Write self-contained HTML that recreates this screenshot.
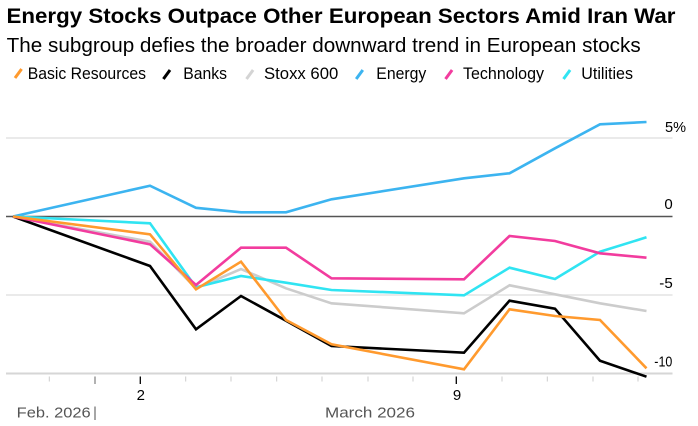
<!DOCTYPE html>
<html>
<head>
<meta charset="utf-8">
<style>
  html, body { margin: 0; padding: 0; background: #ffffff; }
  svg { display: block; }
  text { font-family: "Liberation Sans", Arial, sans-serif; }
</style>
</head>
<body>
<svg width="698" height="426" viewBox="0 0 698 426" xmlns="http://www.w3.org/2000/svg">
  <rect x="0" y="0" width="698" height="426" fill="#ffffff"/>

  <!-- Title & subtitle -->
  <text x="6.5" y="23" font-size="21.5" font-weight="bold" fill="#000" textLength="669" lengthAdjust="spacingAndGlyphs">Energy Stocks Outpace Other European Sectors Amid Iran War</text>
  <text x="6.7" y="52" font-size="20.5" fill="#000" textLength="634" lengthAdjust="spacingAndGlyphs">The subgroup defies the broader downward trend in European stocks</text>

  <!-- Legend -->
  <g stroke-width="3" fill="none">
    <line x1="15" y1="78" x2="21.6" y2="69" stroke="#ff9a2e"/>
    <line x1="163.4" y1="79" x2="170" y2="70" stroke="#000000"/>
    <line x1="246.5" y1="79" x2="253.1" y2="70" stroke="#d4d4d4"/>
    <line x1="356.2" y1="79" x2="362.8" y2="70" stroke="#3cb4f0"/>
    <line x1="445.5" y1="79" x2="452.1" y2="70" stroke="#f23c9e"/>
    <line x1="563.5" y1="79" x2="570.1" y2="70" stroke="#30e4f2"/>
  </g>
  <g font-size="16.5" fill="#000">
    <text x="27.7" y="79" textLength="118.3" lengthAdjust="spacingAndGlyphs">Basic Resources</text>
    <text x="183.3" y="79" textLength="43.7" lengthAdjust="spacingAndGlyphs">Banks</text>
    <text x="264" y="79" textLength="74.3" lengthAdjust="spacingAndGlyphs">Stoxx 600</text>
    <text x="376.3" y="79" textLength="50" lengthAdjust="spacingAndGlyphs">Energy</text>
    <text x="463" y="79" textLength="81" lengthAdjust="spacingAndGlyphs">Technology</text>
    <text x="581.3" y="79" textLength="51.7" lengthAdjust="spacingAndGlyphs">Utilities</text>
  </g>

  <!-- Grid -->
  <line x1="6" y1="138" x2="672.5" y2="138" stroke="#dddddd" stroke-width="1.3"/>
  <line x1="6" y1="295" x2="672.5" y2="295" stroke="#dddddd" stroke-width="1.3"/>
  <line x1="6" y1="373.5" x2="672.5" y2="373.5" stroke="#d6d6d6" stroke-width="2"/>
  <line x1="6" y1="216.5" x2="672.5" y2="216.5" stroke="#555555" stroke-width="1.6"/>

  <!-- Y labels -->
  <g font-size="15" fill="#000">
    <text x="665" y="132" textLength="21" lengthAdjust="spacingAndGlyphs">5%</text>
    <text x="672.7" y="209" text-anchor="end">0</text>
    <text x="672.7" y="288" text-anchor="end" textLength="13.4" lengthAdjust="spacingAndGlyphs">-5</text>
    <text x="672.3" y="366.7" text-anchor="end" textLength="18" lengthAdjust="spacingAndGlyphs">-10</text>
  </g>

  <!-- X ticks -->
  <g stroke="#cccccc" stroke-width="1">
    <line x1="49.3" y1="376.5" x2="49.3" y2="381.5"/>
    <line x1="185.7" y1="376.5" x2="185.7" y2="381.5"/>
    <line x1="231" y1="376.5" x2="231" y2="381.5"/>
    <line x1="276.7" y1="376.5" x2="276.7" y2="381.5"/>
    <line x1="322" y1="376.5" x2="322" y2="381.5"/>
    <line x1="368" y1="376.5" x2="368" y2="381.5"/>
    <line x1="413" y1="376.5" x2="413" y2="381.5"/>
    <line x1="502" y1="376.5" x2="502" y2="381.5"/>
    <line x1="547.3" y1="376.5" x2="547.3" y2="381.5"/>
    <line x1="593" y1="376.5" x2="593" y2="381.5"/>
    <line x1="638" y1="376.5" x2="638" y2="381.5"/>
  </g>
  <line x1="95" y1="376.5" x2="95" y2="384" stroke="#888888" stroke-width="1.3"/>
  <line x1="140.3" y1="376.5" x2="140.3" y2="384" stroke="#000" stroke-width="1.3"/>
  <line x1="456.3" y1="376.5" x2="456.3" y2="384" stroke="#000" stroke-width="1.3"/>

  <!-- X labels -->
  <g font-size="15" fill="#000">
    <text x="140.8" y="400" text-anchor="middle">2</text>
    <text x="457" y="400" text-anchor="middle">9</text>
  </g>
  <g font-size="15" fill="#555555">
    <text x="16.7" y="417.3" textLength="74" lengthAdjust="spacingAndGlyphs">Feb. 2026</text>
    <text x="325" y="417.3" textLength="90" lengthAdjust="spacingAndGlyphs">March 2026</text>
  </g>
  <line x1="95" y1="406.5" x2="95" y2="420" stroke="#777777" stroke-width="1.3"/>

  <!-- Series -->
  <g fill="none" stroke-width="2.6" stroke-linejoin="miter" stroke-miterlimit="10">
    <!-- Stoxx 600 -->
    <polyline stroke="#cccccc" points="13,216.5 150,241.7 196,288.3 241,269 286,288.3 331.5,303.3 464,313.3 509.5,285.3 555,294.3 600,303.3 646.5,311"/>
    <!-- Banks -->
    <polyline stroke="#000000" points="13,216.5 150,266 196,329.3 241,296 286,320.7 331.5,346 464,352.7 509.5,300.7 555,308.7 600,360.7 646.5,376.7"/>
    <!-- Energy -->
    <polyline stroke="#3cb4f0" points="13,216.5 150,185.7 196,207.8 241,212.3 286,212.3 331.5,199.3 464,178.3 509.5,173.3 555,148.3 600,124.3 646.5,122"/>
    <!-- Utilities -->
    <polyline stroke="#30e4f2" points="13,216.5 150,223.3 196,287.3 241,276 286,282.7 331.5,290 464,295.3 509.5,267.7 555,279 600,251.7 646.5,237.3"/>
    <!-- Technology -->
    <polyline stroke="#f23c9e" points="13,216.5 150,244.3 196,285 241,247.7 286,247.7 331.5,278.3 464,279.3 509.5,236 555,241 600,253.3 646.5,257.7"/>
    <!-- Basic Resources -->
    <polyline stroke="#ff9a2e" points="13,216.5 150,234.3 196,289.3 241,261.7 286,320 331.5,344.3 464,369.3 509.5,309.3 555,316 600,320 646.5,368.3"/>
  </g>
</svg>
</body>
</html>
